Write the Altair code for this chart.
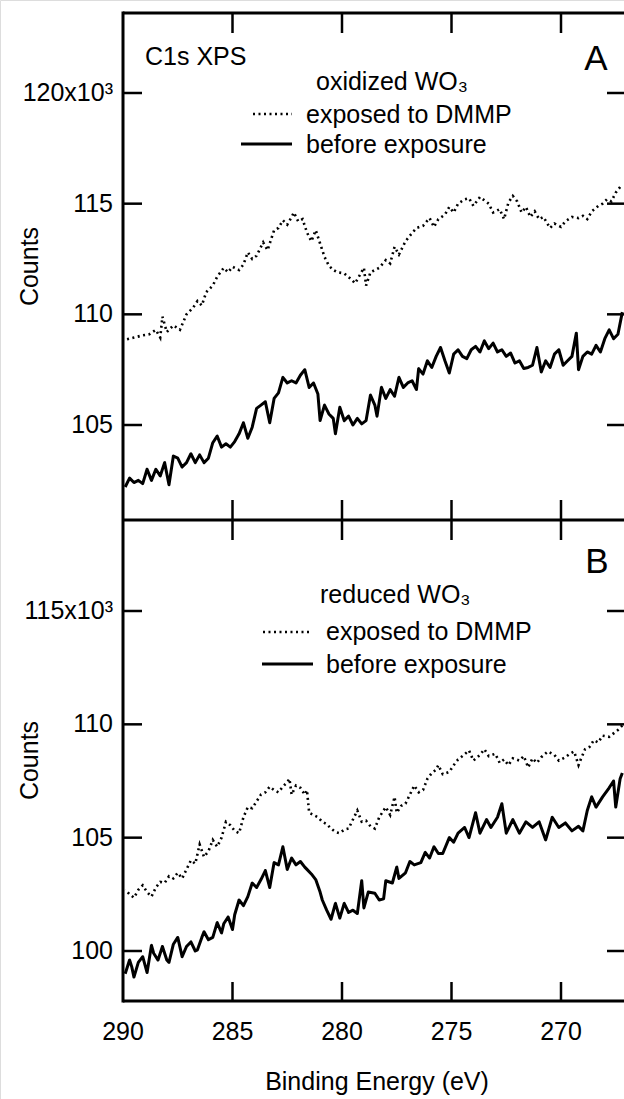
import altair as alt
import pandas as pd

# ---------------- data ----------------
# Panel A : oxidized WO3, exposed to DMMP (dotted)
eA_exp = [289.9, 289.5, 289.1, 288.8, 288.5, 288.3, 288.2, 288.0, 287.7, 287.4, 287.1, 286.8, 286.6, 286.4,
          286.2, 285.9, 285.7, 285.4, 285.2, 285.0, 284.7, 284.5, 284.3, 284.1, 283.9, 283.6, 283.4, 283.1,
          282.9, 282.7, 282.5, 282.3, 282.2, 282.0, 281.8, 281.6, 281.4, 281.2, 281.0, 280.8, 280.6, 280.4,
          280.2, 279.9, 279.6, 279.4, 279.2, 279.0, 278.9, 278.7, 278.5, 278.3, 278.0, 277.8, 277.6, 277.4,
          277.1, 276.9, 276.6, 276.3, 276.0, 275.8, 275.6, 275.3, 275.1, 274.9, 274.7, 274.4, 274.2, 274.0,
          273.7, 273.5, 273.3, 273.1, 272.8, 272.6, 272.4, 272.2, 272.0, 271.8, 271.6, 271.4, 271.2, 271.0,
          270.8, 270.5, 270.3, 270.0, 269.8, 269.5, 269.2, 269.0, 268.8, 268.6, 268.3, 268.1, 267.9, 267.7,
          267.5, 267.3]
vA_exp = [108.85, 108.95, 109.05, 109.1, 109.3, 108.95, 109.9, 109.2, 109.5, 109.3, 110.0, 110.3, 110.6, 110.4,
          111.0, 111.3, 111.7, 112.1, 111.9, 112.15, 112.0, 112.25, 112.8, 112.5, 112.65, 113.25, 112.9, 113.8,
          113.9, 114.25, 114.05, 114.4, 114.6, 114.2, 114.3, 113.7, 113.3, 113.8, 113.2, 112.6, 112.2, 112.0,
          111.9, 111.85, 111.6, 111.4, 111.75, 112.1, 111.3, 111.9, 112.0, 112.1, 112.45, 112.3, 113.05, 112.7,
          113.3, 113.55, 113.9, 114.0, 114.35, 113.95, 114.3, 114.5, 114.85, 114.6, 115.0, 115.2, 115.25, 114.9,
          115.3, 115.15, 115.0, 114.6, 114.75, 114.3, 115.05, 115.35, 115.1, 114.6, 114.85, 114.4, 114.65, 114.3,
          114.4, 113.9, 114.1, 113.95, 114.2, 114.4, 114.35, 114.45, 114.3, 114.65, 114.9, 115.0, 115.2, 115.1,
          115.5, 115.75]

# Panel A : before exposure (solid)
eA_bef = [289.9, 289.7, 289.5, 289.3, 289.1, 288.9, 288.7, 288.5, 288.3, 288.1, 287.9, 287.7, 287.5, 287.3,
          287.1, 286.9, 286.7, 286.5, 286.3, 286.1, 285.9, 285.7, 285.5, 285.3, 285.1, 284.9, 284.7, 284.5,
          284.3, 284.1, 283.9, 283.7, 283.5, 283.3, 283.1, 282.9, 282.7, 282.5, 282.3, 282.1, 281.9, 281.7,
          281.5, 281.3, 281.1, 281.0, 280.8, 280.6, 280.4, 280.3, 280.1, 279.9, 279.7, 279.5, 279.3, 279.1,
          278.9, 278.7, 278.5, 278.4, 278.2, 278.0, 277.8, 277.6, 277.4, 277.2, 277.0, 276.8, 276.6, 276.5,
          276.3, 276.1, 275.9, 275.7, 275.5, 275.3, 275.1, 274.9, 274.7, 274.5, 274.3, 274.1, 273.9, 273.7,
          273.5, 273.3, 273.1, 272.9, 272.7, 272.5, 272.3, 272.1, 271.9, 271.7, 271.5, 271.3, 271.1, 270.9,
          270.7, 270.5, 270.3, 270.1, 269.9, 269.7, 269.5, 269.3, 269.2, 269.0, 268.8, 268.6, 268.4, 268.2,
          268.0, 267.8, 267.6, 267.4, 267.2]
vA_bef = [102.2, 102.6, 102.4, 102.5, 102.35, 103.0, 102.5, 103.0, 102.7, 103.3, 102.3, 103.6, 103.5, 103.1,
          103.3, 103.7, 103.3, 103.65, 103.3, 103.5, 104.2, 104.5, 104.0, 104.15, 104.0, 104.25, 104.6, 105.1,
          104.4, 104.9, 105.75, 105.9, 106.05, 105.1, 106.2, 106.45, 107.15, 106.9, 107.0, 106.9, 107.25, 107.5,
          106.7, 106.9, 106.4, 105.2, 105.9, 105.5, 105.3, 104.6, 105.8, 105.2, 105.4, 105.0, 105.3, 105.05,
          105.2, 106.35, 105.9, 105.4, 106.7, 106.2, 106.6, 106.3, 107.15, 106.7, 106.9, 107.0, 106.6, 107.55,
          107.3, 107.9, 107.6, 108.1, 108.5, 107.9, 107.35, 108.2, 108.4, 108.1, 108.0, 108.4, 108.55, 108.3,
          108.8, 108.45, 108.7, 108.3, 108.4, 108.1, 108.25, 107.8, 107.9, 107.55, 107.6, 107.7, 108.5, 107.4,
          107.9, 107.6, 108.2, 108.4, 107.7, 107.9, 108.1, 109.15, 107.5, 108.1, 108.3, 108.2, 108.6, 108.3,
          108.9, 109.3, 108.9, 109.1, 110.1]

# Panel B : reduced WO3, exposed to DMMP (dotted)
eB_exp = [289.9, 289.7, 289.5, 289.3, 289.1, 288.9, 288.7, 288.5, 288.3, 288.1, 287.9, 287.7, 287.5, 287.3,
          287.1, 286.9, 286.7, 286.5, 286.3, 286.1, 285.9, 285.7, 285.5, 285.3, 285.1, 284.9, 284.7, 284.5,
          284.3, 284.1, 283.9, 283.7, 283.5, 283.3, 283.1, 282.9, 282.7, 282.5, 282.4, 282.3, 282.1, 281.9,
          281.7, 281.6, 281.5, 281.3, 281.1, 280.9, 280.7, 280.5, 280.3, 280.1, 279.9, 279.7, 279.5, 279.3,
          279.1, 278.9, 278.7, 278.5, 278.3, 278.0, 277.8, 277.6, 277.5, 277.3, 277.1, 276.9, 276.7, 276.5,
          276.3, 276.1, 275.9, 275.7, 275.6, 275.4, 275.1, 274.9, 274.7, 274.5, 274.2, 274.0, 273.7, 273.5,
          273.3, 273.0, 272.8, 272.6, 272.4, 272.2, 271.9, 271.7, 271.5, 271.3, 271.1, 270.9, 270.6, 270.3,
          270.1, 269.8, 269.6, 269.4, 269.2, 269.1, 268.9, 268.7, 268.5, 268.3, 268.1, 267.8, 267.6, 267.4,
          267.2]
vB_exp = [102.7, 102.5, 102.35, 102.7, 102.9, 102.6, 102.4, 102.8, 103.05, 103.0, 103.3, 103.2, 103.45, 103.2,
          103.6, 104.0, 103.85, 104.7, 104.15, 104.4, 104.9, 104.6, 105.0, 105.7, 105.55, 105.3, 105.2, 105.9,
          106.35, 106.3, 106.6, 106.9, 107.0, 107.25, 107.1, 107.0, 107.25, 107.45, 107.6, 106.9, 107.3, 107.2,
          106.9, 107.1, 106.1, 106.0, 105.9, 105.7, 105.6, 105.4, 105.25, 105.2, 105.35, 105.4, 105.8, 106.2,
          105.7, 105.75, 105.5, 105.4, 105.9, 106.35, 106.0, 106.8, 106.1, 106.4, 106.5, 106.9, 107.3, 107.0,
          107.1, 107.6, 107.85, 108.0, 108.2, 107.8, 107.9, 108.2, 108.45, 108.6, 108.85, 108.4, 108.65, 108.9,
          108.6, 108.7, 108.3, 108.45, 108.2, 108.5, 108.4, 108.6, 108.1, 108.5, 108.3, 108.55, 108.8, 108.65,
          108.4, 108.55, 108.7, 108.8, 108.2, 108.45, 108.9, 109.0, 109.3, 109.2, 109.5, 109.45, 109.6, 109.75,
          109.95]

# Panel B : before exposure (solid)
eB_bef = [289.9, 289.7, 289.6, 289.5, 289.3, 289.1, 288.9, 288.7, 288.6, 288.4, 288.2, 288.0, 287.9, 287.7,
          287.5, 287.3, 287.1, 286.9, 286.7, 286.6, 286.4, 286.3, 286.1, 285.9, 285.7, 285.5, 285.4, 285.2,
          285.0, 284.9, 284.7, 284.5, 284.3, 284.1, 283.9, 283.7, 283.5, 283.3, 283.1, 282.9, 282.7, 282.5,
          282.3, 282.1, 281.9, 281.7, 281.6, 281.4, 281.2, 281.0, 280.9, 280.7, 280.5, 280.3, 280.1, 279.9,
          279.7, 279.5, 279.3, 279.1, 279.0, 278.8, 278.5, 278.3, 278.1, 278.0, 277.7, 277.5, 277.4, 277.1,
          276.9, 276.7, 276.4, 276.2, 276.0, 275.8, 275.6, 275.4, 275.1, 274.9, 274.7, 274.4, 274.2, 273.9,
          273.7, 273.4, 273.2, 272.9, 272.7, 272.5, 272.2, 271.9, 271.6, 271.3, 271.0, 270.7, 270.4, 270.1,
          269.8, 269.5, 269.2, 269.0, 268.8, 268.6, 268.4, 268.1, 267.8, 267.6, 267.5, 267.3, 267.2]
vB_bef = [99.0, 99.6, 99.3, 98.85, 99.5, 99.75, 99.05, 100.25, 99.9, 99.6, 100.2, 99.6, 99.5, 100.3,
          100.6, 99.75, 100.2, 100.4, 100.0, 100.05, 100.6, 100.85, 100.5, 100.6, 101.25, 100.8, 101.2, 101.5,
          100.95, 101.6, 102.25, 102.0, 102.4, 103.0, 102.8, 103.15, 103.55, 102.8, 103.9, 103.8, 104.6, 103.6,
          104.1, 103.8, 103.95, 103.7, 103.6, 103.4, 103.15, 102.6, 102.25, 101.8, 101.4, 102.1, 101.45, 102.1,
          101.7, 101.8, 101.65, 103.1, 101.9, 102.6, 102.55, 102.25, 102.3, 103.1, 103.0, 103.7, 103.2, 103.45,
          103.95, 103.8, 103.9, 104.35, 104.1, 104.6, 104.3, 104.3, 105.0, 104.8, 105.2, 105.45, 105.0, 106.1,
          105.2, 105.8, 105.45, 105.9, 106.5, 105.2, 105.8, 105.2, 105.7, 105.45, 105.7, 104.9, 105.9, 105.45,
          105.65, 105.3, 105.5, 105.3, 106.2, 106.8, 106.35, 106.8, 107.2, 107.5, 106.35, 107.6, 107.85]

x_ticks = [290, 285, 280, 275, 270]
x_tick_labels = ["290", "285", "280", "275", "270"]
yA_ticks = [105, 110, 115, 120]
yA_tick_labels = ["105", "110", "115", "120x10\u00b3"]
yB_ticks = [100, 105, 110, 115]
yB_tick_labels = ["100", "105", "110", "115x10\u00b3"]

x_title = "Binding Energy (eV)"
y_title = "Counts"
panelA_labels = ["C1s XPS", "A", "oxidized WO\u2083", "exposed to DMMP", "before exposure"]
panelB_labels = ["B", "reduced WO\u2083", "exposed to DMMP", "before exposure"]

# ---------------- chart ----------------
FONT = "Liberation Sans"
FS = 25
W, H = 624, 1099           # whole page; plot frame drawn inside it
LEFT, RIGHT = 123, 624
TOP, MID, BOTTOM = 13, 520, 1001

one = pd.DataFrame({"k": [0]})

xscale = alt.Scale(domain=[290, 270], range=[123, 561], nice=False, zero=False)
yA_scale = alt.Scale(domain=[105, 120], range=[425, 93], nice=False, zero=False)
yB_scale = alt.Scale(domain=[100, 115], range=[951, 611], nice=False, zero=False)

X = alt.X("e:Q", scale=xscale, axis=None)
YA = alt.Y("v:Q", scale=yA_scale, axis=None)
YB = alt.Y("v:Q", scale=yB_scale, axis=None)

DOT = dict(color="black", strokeWidth=2.6, strokeDash=[2, 3.5], strokeCap="butt")
SOLID = dict(color="black", strokeWidth=3, strokeJoin="round")
FRAME = dict(color="black", strokeWidth=3)
TICK = dict(color="black", strokeWidth=2.5)

layers = []

# --- panel A (y scale A)
layers.append(alt.Chart(pd.DataFrame({"e": eA_exp, "v": vA_exp})).mark_line(**DOT).encode(
    x=X, y=YA, order="e:Q"))
layers.append(alt.Chart(pd.DataFrame({"e": eA_bef, "v": vA_bef})).mark_line(**SOLID).encode(
    x=X, y=YA, order="e:Q"))
dfyA = pd.DataFrame({"v": yA_ticks, "lab": yA_tick_labels})
layers.append(alt.Chart(dfyA).mark_rule(**TICK).encode(y=YA, x=alt.value(LEFT), x2=alt.value(LEFT + 19)))
layers.append(alt.Chart(dfyA).mark_rule(**TICK).encode(y=YA, x=alt.value(RIGHT - 17), x2=alt.value(RIGHT)))
layers.append(alt.Chart(dfyA).mark_text(font=FONT, fontSize=FS, color="black", align="right",
                                         baseline="middle").encode(
    y=YA, x=alt.value(LEFT - 10), text="lab:N"))

# --- panel B (y scale B)
layers.append(alt.Chart(pd.DataFrame({"e": eB_exp, "v": vB_exp})).mark_line(**DOT).encode(
    x=X, y=YB, order="e:Q"))
layers.append(alt.Chart(pd.DataFrame({"e": eB_bef, "v": vB_bef})).mark_line(**SOLID).encode(
    x=X, y=YB, order="e:Q"))
dfyB = pd.DataFrame({"v": yB_ticks, "lab": yB_tick_labels})
layers.append(alt.Chart(dfyB).mark_rule(**TICK).encode(y=YB, x=alt.value(LEFT), x2=alt.value(LEFT + 19)))
layers.append(alt.Chart(dfyB).mark_rule(**TICK).encode(y=YB, x=alt.value(RIGHT - 17), x2=alt.value(RIGHT)))
layers.append(alt.Chart(dfyB).mark_text(font=FONT, fontSize=FS, color="black", align="right",
                                         baseline="middle").encode(
    y=YB, x=alt.value(LEFT - 10), text="lab:N"))

# --- frame
layers.append(alt.Chart(one).mark_rule(**FRAME).encode(
    x=alt.value(LEFT), y=alt.value(TOP - 1.5), y2=alt.value(BOTTOM + 1.5)))
for yy in (TOP, MID, BOTTOM):
    layers.append(alt.Chart(one).mark_rule(**FRAME).encode(
        x=alt.value(LEFT), x2=alt.value(RIGHT), y=alt.value(yy)))

dfx_in = pd.DataFrame({"e": x_ticks[1:]})
for y1, y2 in ((TOP, TOP + 20), (MID, MID - 20), (MID, MID + 20), (BOTTOM, BOTTOM - 19)):
    layers.append(alt.Chart(dfx_in).mark_rule(**TICK).encode(x=X, y=alt.value(y1), y2=alt.value(y2)))

dfx = pd.DataFrame({"e": x_ticks, "lab": x_tick_labels})
layers.append(alt.Chart(dfx).mark_text(font=FONT, fontSize=FS, color="black", align="center",
                                        baseline="alphabetic").encode(
    x=X, y=alt.value(1040), text="lab:N"))


def txt(label, x, y, size=FS, align="left", baseline="alphabetic", angle=0):
    return alt.Chart(pd.DataFrame({"t": [label]})).mark_text(
        font=FONT, fontSize=size, color="black", align=align, baseline=baseline, angle=angle).encode(
        text="t:N", x=alt.value(x), y=alt.value(y))


def sample(x1, x2, y, style):
    return alt.Chart(one).mark_rule(**style).encode(x=alt.value(x1), x2=alt.value(x2), y=alt.value(y))


layers += [
    txt(x_title, 377, 1090, align="center"),
    txt(y_title, 30, (TOP + MID) / 2, align="center", baseline="middle", angle=270),
    txt(y_title, 30, (MID + BOTTOM) / 2, align="center", baseline="middle", angle=270),
    txt(panelA_labels[0], 145, 65),
    txt(panelA_labels[1], 596, 70, size=35, align="center"),
    txt(panelA_labels[2], 316, 90),
    txt(panelA_labels[3], 306, 123),
    txt(panelA_labels[4], 306, 153),
    sample(253, 292, 114, DOT),
    sample(241, 292, 144, SOLID),
    txt(panelB_labels[0], 597, 573, size=35, align="center"),
    txt(panelB_labels[1], 320, 603),
    txt(panelB_labels[2], 326, 640),
    txt(panelB_labels[3], 326, 673),
    sample(263, 312, 632, DOT),
    sample(262, 313, 664, SOLID),
]

chart = alt.layer(*layers).resolve_scale(y="independent").properties(
    width=W, height=H,
    autosize=alt.AutoSizeParams(type="none"),
    padding=0,
).configure_view(strokeWidth=0).configure(background="white")

chart.save("out.html", embed_options={"renderer": "svg", "actions": False})
